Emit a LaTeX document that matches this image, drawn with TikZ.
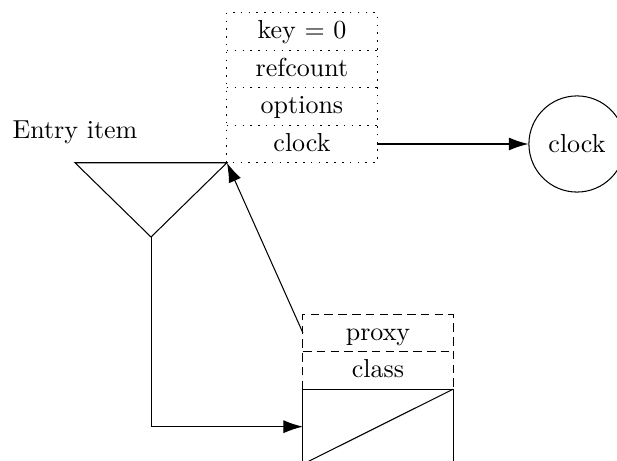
\documentclass[tikz,border=0pt]{standalone}
\usetikzlibrary{arrows.meta, calc}

\begin{document}
\begin{tikzpicture}[
  field/.style={minimum width=2.03cm, minimum height=0.507cm, inner sep=0pt, outer sep=0pt,
    text height=1.6ex, text depth=0.3ex},
  entrydot/.style={dash pattern=on 0.6pt off 2.4pt},
  proxydash/.style={dash pattern=on 3.3pt off 2pt},
  link/.style={-{Latex[length=7.5pt, width=5pt]}}
]
  \clip (0,0) rectangle (8.342,6.233);

  % Entry record
  \node[field] (key) at (4.083, 5.807) {key $=$ 0};
  \node[field] (refcount) at (4.083, 5.300) {refcount};
  \node[field] (options) at (4.083, 4.793) {options};
  \node[field] (clockref) at (4.083, 4.286) {clock};
  \draw[entrydot] (key.north west) rectangle (clockref.south east);
  \foreach \row in {refcount, options, clockref}
    \draw[entrydot] (\row.north west) -- (\row.north east);

  % Clock object
  \node[draw, circle, minimum size=1.3cm, inner sep=0pt] (clock) at (7.801, 4.286) {clock};
  \draw[link] (clockref.east) -- (clock.west);

  % Entry item
  \node (entrylabel) at (1.014, 4.448) {Entry item};
  \coordinate (trileft) at (1.014, 4.0325);
  \coordinate (apex) at (2.042, 3.028);
  \draw (trileft) -- (clockref.south west) -- (apex) -- cycle;

  % Proxy record
  \node[field] (proxy) at (5.111, 1.731) {proxy};
  \node[field] (class) at (5.111, 1.224) {class};
  \draw[proxydash] (class.south west) -- (proxy.north west) -- (proxy.north east) -- (class.south east);
  \draw[proxydash] (proxy.south west) -- (proxy.south east);
  \node[field, draw, minimum height=1.014cm] (store) at (5.111, 0.464) {};
  \draw (store.north east) -- (store.south west);

  \draw[link] (proxy.west) -- (clockref.south west);
  \draw[link] (apex) |- (store.west);
\end{tikzpicture}
\end{document}
